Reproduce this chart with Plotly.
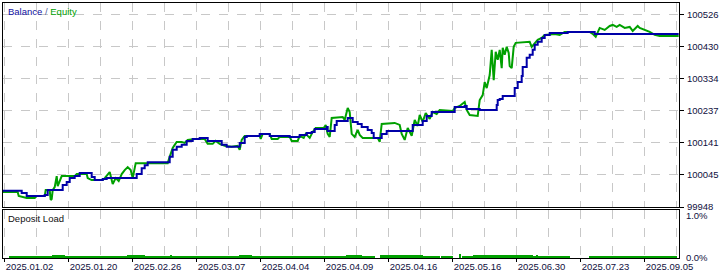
import plotly.graph_objects as go

# ---- data (x = trade/bar index) ----
balance_x = [-2, 17, 22, 40, 43, 55, 58, 62, 65, 70, 75, 87, 90, 98, 102, 128, 132, 137, 140, 143,
             163, 165, 168, 172, 177, 182, 188, 195, 203, 213, 217, 222, 235, 240, 242, 255, 265, 285,
             295, 302, 307, 310, 320, 322, 323, 330, 332, 343, 348, 353, 357, 363, 367, 369, 377, 382,
             408, 418, 422, 427, 450, 460, 462, 475, 492, 493, 495, 498, 510, 513, 517, 518, 522, 525,
             528, 530, 533, 537, 540, 545, 563, 590, 674]
balance = [99997, 99990, 99981, 99984, 99999, 99999, 100014, 100023, 100035, 100041, 100050, 100038,
           100029, 100032, 100035, 100035, 100047, 100065, 100074, 100083, 100083, 100099, 100120,
           100129, 100135, 100147, 100153, 100156, 100147, 100147, 100135, 100129, 100141, 100159,
           100162, 100168, 100162, 100159, 100165, 100171, 100174, 100183, 100183, 100189, 100177,
           100195, 100207, 100216, 100204, 100198, 100189, 100180, 100171, 100156, 100168, 100177,
           100195, 100207, 100222, 100234, 100249, 100252, 100243, 100240, 100255, 100270, 100273,
           100282, 100306, 100324, 100342, 100369, 100397, 100406, 100421, 100436, 100445, 100457,
           100466, 100472, 100475, 100469, 100469]

equity_x = [-2, 13, 14, 22, 30, 32, 40, 41, 45, 46, 47, 48, 50, 52, 53, 55, 57, 70, 72, 82, 83, 87,
            98, 100, 105, 108, 111, 114, 117, 120, 123, 126, 128, 131, 163, 165, 168, 170, 172, 177,
            180, 183, 190, 200, 203, 208, 211, 215, 220, 227, 233, 235, 237, 240, 255, 256, 258, 265,
            267, 273, 275, 285, 287, 293, 295, 299, 301, 305, 308, 311, 319, 321, 323, 325, 327, 338,
            340, 343, 345, 347, 350, 353, 355, 358, 373, 375, 377, 390, 395, 397, 400, 403, 407, 410,
            413, 415, 418, 421, 425, 428, 432, 435, 448, 450, 455, 460, 462, 465, 473, 475, 478, 480,
            482, 485, 487, 489, 491, 493, 495, 497, 498, 500, 502, 504, 505, 507, 509, 511, 525, 527,
            530, 533, 537, 540, 550, 555, 560, 585, 588, 591, 595, 600, 605, 608, 612, 615, 620, 625,
            628, 633, 635, 640, 645, 650, 655, 674]
equity = [99993, 99993, 99981, 99975, 99975, 99981, 99981, 99999, 99999, 99969, 99972, 99999, 100008,
          100041, 100011, 100029, 100041, 100041, 100047, 100047, 100035, 100029, 100029, 100035,
          100053, 100017, 100035, 100026, 100047, 100059, 100068, 100059, 100035, 100080, 100080,
          100099, 100126, 100135, 100144, 100144, 100141, 100150, 100153, 100153, 100138, 100138,
          100147, 100138, 100132, 100129, 100132, 100120, 100150, 100162, 100162, 100153, 100168,
          100168, 100153, 100153, 100159, 100159, 100147, 100147, 100162, 100156, 100168, 100156,
          100174, 100186, 100186, 100195, 100168, 100159, 100216, 100219, 100210, 100246, 100234,
          100168, 100159, 100180, 100165, 100156, 100156, 100144, 100198, 100201, 100195, 100168,
          100150, 100186, 100162, 100210, 100192, 100225, 100204, 100231, 100213, 100234, 100228,
          100240, 100237, 100246, 100252, 100264, 100240, 100225, 100222, 100270, 100285, 100324,
          100306, 100345, 100421, 100330, 100415, 100391, 100421, 100366, 100427, 100406, 100430,
          100412, 100372, 100366, 100430, 100442, 100445, 100430, 100442, 100451, 100457, 100466,
          100469, 100466, 100475, 100475, 100469, 100460, 100487, 100481, 100493, 100496, 100490,
          100496, 100487, 100490, 100478, 100493, 100487, 100481, 100475, 100466, 100463, 100463]

# deposit load segments: start index, end index, load %, spacing between trades
load_start = [5, 48, 60, 123, 140, 166, 235, 247, 250, 310, 342, 357, 376, 418, 437, 455, 458, 469, 512, 528, 532, 585]
load_end =   [48, 60, 123, 140, 235, 167, 247, 342, 251, 311, 357, 370, 418, 435, 448, 456, 469, 512, 528, 565, 533, 672]
load_pct =   [0.025, 0.06, 0.025, 0.06, 0.025, 0.05, 0.06, 0.025, 0.05, 0.05, 0.06, 0.025, 0.06, 0.025, 0.025, 0.09, 0.05, 0.08, 0.06, 0.025, 0.05, 0.025]
load_gap =   [2, 1, 2, 1, 2, 1, 1, 2, 1, 1, 1, 2, 1, 2, 2, 1, 1, 1, 1, 2, 1, 2]

y_ticks = [99948, 100045, 100141, 100237, 100334, 100430, 100526]
date_ticks = [0, 64, 128, 192, 256, 320, 384, 448, 512, 576, 640]
date_labels = ["2025.01.02", "2025.01.20", "2025.02.26", "2025.03.07", "2025.04.04", "2025.04.09",
               "2025.04.16", "2025.05.16", "2025.06.30", "2025.07.23", "2025.09.05"]
minor_ticks = [32, 96, 160, 224, 288, 352, 416, 480, 544, 608, 672]

load_x, load_y = [], []
for s, e, p, g in zip(load_start, load_end, load_pct, load_gap):
    for i in range(s, e, g):
        load_x.append(i)
        load_y.append(p)

GREEN = "#00a000"
BLUE = "#0000a8"
GRID = "#c8c8c8"
FONT = "Liberation Sans, Arial, sans-serif"
TXT = "#101040"

fig = go.Figure()
fig.add_trace(go.Scatter(x=equity_x, y=equity, mode="lines", line=dict(color=GREEN, width=2),
                         xaxis="x", yaxis="y", hoverinfo="skip"))
fig.add_trace(go.Scatter(x=balance_x, y=balance, mode="lines", line=dict(color=BLUE, width=2, shape="hv"),
                         xaxis="x", yaxis="y", hoverinfo="skip"))
fig.add_trace(go.Bar(x=load_x, y=load_y, width=1, marker=dict(color=GREEN, line=dict(width=0)),
                     xaxis="x2", yaxis="y2", hoverinfo="skip"))

xr = [-1.7, 674.3]
common_x = dict(range=xr, showline=True, linecolor="black", linewidth=1, mirror=True,
                tickvals=date_ticks, showgrid=True, gridcolor=GRID, griddash="dash", gridwidth=1,
                zeroline=False, automargin=False, tickangle=0,
                minor=dict(tickvals=minor_ticks, showgrid=True, gridcolor=GRID, griddash="dash", gridwidth=1))

fig.update_layout(
    width=720, height=273,
    margin=dict(l=3, r=41, t=3, b=15, autoexpand=False),
    paper_bgcolor="white", plot_bgcolor="white",
    showlegend=False, bargap=0,
    font=dict(family=FONT, size=9.5, color=TXT),
    xaxis=dict(**common_x, domain=[0, 1], anchor="y", showticklabels=False, ticks=""),
    yaxis=dict(domain=[0.2, 1], range=[99948, 100562], side="right", anchor="x",
               tickvals=y_ticks, ticktext=[str(v) for v in y_ticks], ticks="outside", ticklen=4,
               tickcolor="black", showline=True, linecolor="black", linewidth=1, mirror=True,
               showgrid=True, gridcolor=GRID, griddash="dash", gridwidth=1, zeroline=False,
               automargin=False, ticklabelstandoff=1),
    xaxis2=dict(**common_x, domain=[0, 1], anchor="y2", ticktext=date_labels, ticks="outside",
                ticklen=3, tickcolor="black", ticklabelposition="outside right", ticklabelstandoff=0),
    yaxis2=dict(domain=[0, 0.188], range=[0, 1.12], side="right", anchor="x2",
                tickvals=[0, 1.0], ticktext=["0.0%", "1.0%"], ticks="", showgrid=False,
                showline=True, linecolor="black", linewidth=1, mirror=True, zeroline=False,
                automargin=False, ticklabelstandoff=4),
    annotations=[
        dict(xref="paper", yref="paper", x=0.004, y=0.997, xanchor="left", yanchor="top",
             text="<span style='color:#1010a0'>Balance</span> <span style='color:#5060a0'>/</span> "
                  "<span style='color:#00a000'>Equity</span>",
             showarrow=False, font=dict(size=9.5)),
        dict(xref="paper", yref="paper", x=0.004, y=0.183, xanchor="left", yanchor="top",
             text="Deposit Load", showarrow=False, font=dict(size=9.5, color="#101010")),
    ],
)

fig.write_html("out.html")
